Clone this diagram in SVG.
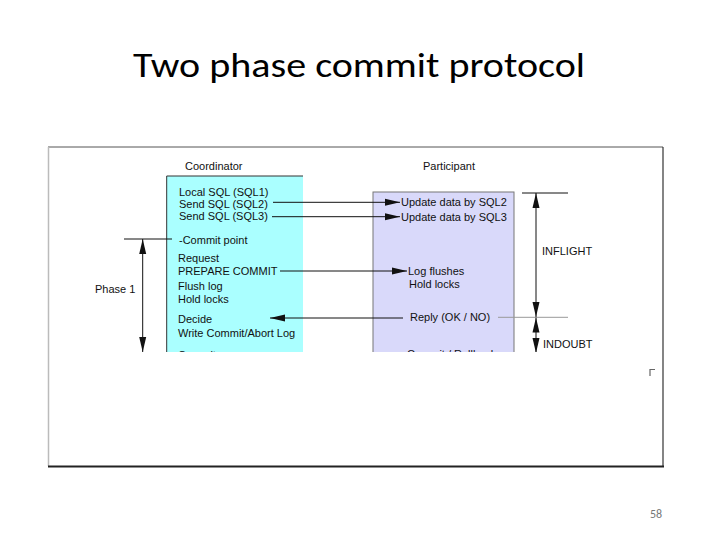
<svg xmlns="http://www.w3.org/2000/svg" width="720" height="540" viewBox="0 0 720 540">
<style>
.t{font-family:"Liberation Sans",Arial,sans-serif;font-size:11px;fill:#111}
.ln{stroke:#111;stroke-width:1;fill:none}
.gl{stroke:#999;stroke-width:1;fill:none}
</style>
<defs>
<marker id="ah" viewBox="0 0 15 8" refX="15" refY="4" markerWidth="15" markerHeight="8" markerUnits="userSpaceOnUse" orient="auto">
<path d="M0,0.5 L15,4 L0,7.5 Z" fill="#111"/>
</marker>
<marker id="ahs" viewBox="0 0 15 8" refX="15" refY="4" markerWidth="15" markerHeight="8" markerUnits="userSpaceOnUse" orient="auto-start-reverse">
<path d="M0,0.5 L15,4 L0,7.5 Z" fill="#111"/>
</marker>
<clipPath id="cut"><rect x="48" y="147" width="615" height="205"/></clipPath>
</defs>
<rect width="720" height="540" fill="#fff"/>
<text x="133" y="77" font-family="Calibri,'Liberation Sans',sans-serif" font-size="34" textLength="452" lengthAdjust="spacingAndGlyphs" fill="#000">Two phase commit protocol</text>
<g id="frame">
<line x1="48" y1="147" x2="663" y2="147" stroke="#555" stroke-width="1"/>
<line x1="48.5" y1="147" x2="48.5" y2="466" stroke="#bbb" stroke-width="1.5"/>
<line x1="663" y1="147" x2="663" y2="467" stroke="#333" stroke-width="1.2"/>
<line x1="48" y1="466.5" x2="664" y2="466.5" stroke="#222" stroke-width="2"/>
</g>
<g clip-path="url(#cut)">
<g id="coordinator">
<text class="t" x="185" y="170">Coordinator</text>
<rect x="166.7" y="176" width="136.3" height="180" fill="#aaffff"/>
<line x1="166.7" y1="176" x2="303" y2="176" stroke="#333" stroke-width="1"/>
<line x1="166.7" y1="176" x2="166.7" y2="356" stroke="#333" stroke-width="1"/>
<text class="t" x="179" y="195.5">Local SQL (SQL1)</text>
<text class="t" x="179" y="207.5">Send SQL (SQL2)</text>
<text class="t" x="179" y="220">Send SQL (SQL3)</text>
<text class="t" x="179" y="243.5">-Commit point</text>
<text class="t" x="178" y="262">Request</text>
<text class="t" x="178" y="275">PREPARE COMMIT</text>
<text class="t" x="178" y="289.5">Flush log</text>
<text class="t" x="178" y="303">Hold locks</text>
<text class="t" x="178" y="323">Decide</text>
<text class="t" x="178" y="337">Write Commit/Abort Log</text>
<text class="t" x="178" y="359">Commit</text>
</g>
<g id="participant">
<text class="t" x="423" y="170">Participant</text>
<rect x="373" y="192" width="141" height="170" fill="#d9d9fa" stroke="#777" stroke-width="1"/>
<text class="t" x="401" y="206.3">Update data by SQL2</text>
<text class="t" x="401" y="220.7">Update data by SQL3</text>
<text class="t" x="408" y="275">Log flushes</text>
<text class="t" x="409" y="288.3">Hold locks</text>
<text class="t" x="410" y="321.3">Reply (OK / NO)</text>
<text class="t" x="407" y="358">Commit / Rollback</text>
</g>
<g id="phase1">
<text class="t" x="95" y="293">Phase 1</text>
</g>
<g id="states">
<text class="t" x="542" y="254.7">INFLIGHT</text>
<text class="t" x="543" y="348">INDOUBT</text>
</g>
<g id="connectors">
<line class="ln" x1="273" y1="202.3" x2="400" y2="202.3" marker-end="url(#ah)"/>
<line class="ln" x1="272" y1="216.7" x2="400" y2="216.7" marker-end="url(#ah)"/>
<line class="ln" x1="280" y1="271" x2="407" y2="271" marker-end="url(#ah)"/>
<line class="ln" x1="403" y1="318" x2="270" y2="318" marker-end="url(#ah)"/>
<line class="gl" x1="498" y1="317.3" x2="568" y2="317.3"/>
<line class="ln" x1="385" y1="355.5" x2="395" y2="355.5" marker-end="url(#ah)"/>
<line class="ln" x1="124" y1="239" x2="172" y2="239"/>
<line class="ln" x1="142.7" y1="239" x2="142.7" y2="352" marker-start="url(#ahs)" marker-end="url(#ah)"/>
<line class="ln" x1="522" y1="193" x2="568" y2="193"/>
<line class="ln" x1="536" y1="193" x2="536" y2="317" marker-start="url(#ahs)" marker-end="url(#ah)"/>
<line class="ln" x1="536" y1="317.5" x2="536" y2="353" marker-start="url(#ahs)" marker-end="url(#ah)"/>
</g>
</g>
<polyline points="650,376 650,369.5 655,369.5" fill="none" stroke="#666" stroke-width="1.2"/>
<text x="650" y="518" font-family="Calibri,'Liberation Sans',sans-serif" font-size="12" fill="#777">58</text>
</svg>
